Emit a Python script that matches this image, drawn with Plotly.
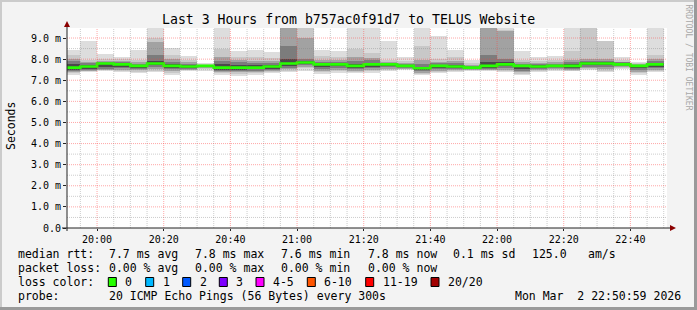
import plotly.graph_objects as go
import pandas as pd

# ---------------- data ----------------
start = pd.Timestamp("2026-03-02 19:50:00")
col_starts = [start + pd.Timedelta(minutes=5 * i) for i in range(36)]

median = [7.60, 7.65, 7.79, 7.75, 7.68, 7.79, 7.68, 7.65, 7.68, 7.60, 7.60, 7.60,
          7.65, 7.79, 7.84, 7.75, 7.75, 7.68, 7.75, 7.75, 7.68, 7.57, 7.68, 7.65,
          7.60, 7.68, 7.75, 7.68, 7.65, 7.68, 7.68, 7.79, 7.79, 7.75, 7.68, 7.75]

hi1 = [8.41, 8.84, 8.25, 8.11, 8.41, 9.46, 8.54, 8.13, 7.82, 9.60, 8.37, 8.41,
       8.32, 9.60, 9.60, 8.41, 8.37, 9.60, 9.60, 8.84, 8.10, 9.60, 9.10, 8.44,
       7.94, 9.60, 9.60, 8.37, 8.10, 8.16, 9.60, 9.60, 8.84, 8.10, 7.86, 9.60]
hi2 = [8.20, 7.95, 8.00, 8.00, 7.95, 9.00, 8.20, 7.95, 7.76, 8.50, 8.10, 8.10,
       8.05, 9.60, 9.60, 8.15, 8.10, 8.50, 8.30, 7.95, 7.90, 8.60, 8.00, 8.10,
       7.80, 9.60, 9.40, 7.95, 7.90, 7.95, 8.40, 9.60, 8.84, 7.95, 7.80, 8.20]
hi3 = [8.00, 7.85, 7.90, 7.90, 7.85, 8.80, 8.00, 7.85, 7.74, 8.10, 7.95, 7.90,
       7.90, 9.60, 9.00, 7.95, 7.95, 8.10, 8.05, 7.88, 7.82, 7.95, 7.88, 7.90,
       7.72, 9.60, 9.35, 7.85, 7.80, 7.85, 7.95, 8.00, 8.00, 7.88, 7.75, 8.00]
hi4 = [7.90, 7.80, 7.87, 7.85, 7.78, 8.20, 7.85, 7.75, 7.72, 7.90, 7.85, 7.80,
       7.80, 8.60, 8.00, 7.85, 7.85, 7.90, 7.95, 7.83, 7.78, 7.78, 7.80, 7.80,
       7.68, 8.20, 8.00, 7.78, 7.75, 7.78, 7.85, 7.90, 7.90, 7.85, 7.72, 7.90]
hi5 = [7.75, 7.72, 7.83, 7.80, 7.72, 7.90, 7.75, 7.70, 7.70, 7.75, 7.70, 7.70,
       7.72, 8.00, 7.90, 7.80, 7.80, 7.75, 7.82, 7.80, 7.72, 7.65, 7.72, 7.72,
       7.64, 7.85, 7.85, 7.70, 7.70, 7.72, 7.75, 7.85, 7.85, 7.80, 7.70, 7.80]
lo5 = [7.50, 7.55, 7.65, 7.65, 7.60, 7.70, 7.60, 7.60, 7.65, 7.50, 7.50, 7.52,
       7.55, 7.68, 7.75, 7.65, 7.68, 7.60, 7.65, 7.68, 7.62, 7.50, 7.60, 7.60,
       7.56, 7.60, 7.68, 7.55, 7.60, 7.62, 7.60, 7.72, 7.70, 7.70, 7.60, 7.65]
lo4 = [7.45, 7.50, 7.55, 7.60, 7.55, 7.62, 7.55, 7.55, 7.62, 7.42, 7.45, 7.45,
       7.50, 7.60, 7.70, 7.55, 7.60, 7.52, 7.58, 7.62, 7.58, 7.42, 7.52, 7.55,
       7.53, 7.55, 7.60, 7.45, 7.55, 7.58, 7.55, 7.65, 7.62, 7.68, 7.50, 7.58]
lo3 = [7.40, 7.45, 7.50, 7.50, 7.48, 7.55, 7.45, 7.50, 7.58, 7.38, 7.38, 7.40,
       7.45, 7.52, 7.65, 7.45, 7.50, 7.45, 7.50, 7.55, 7.55, 7.35, 7.45, 7.50,
       7.50, 7.50, 7.50, 7.38, 7.50, 7.52, 7.50, 7.60, 7.55, 7.65, 7.40, 7.50]
lo2 = [7.35, 7.42, 7.48, 7.45, 7.40, 7.45, 7.35, 7.48, 7.52, 7.32, 7.30, 7.33,
       7.38, 7.45, 7.60, 7.38, 7.42, 7.40, 7.42, 7.50, 7.52, 7.30, 7.38, 7.45,
       7.47, 7.48, 7.45, 7.30, 7.45, 7.48, 7.45, 7.55, 7.45, 7.60, 7.33, 7.45]
lo1 = [7.27, 7.38, 7.46, 7.38, 7.33, 7.38, 7.27, 7.46, 7.46, 7.27, 7.22, 7.27,
       7.33, 7.38, 7.46, 7.30, 7.35, 7.35, 7.35, 7.45, 7.48, 7.27, 7.33, 7.40,
       7.44, 7.46, 7.40, 7.27, 7.40, 7.44, 7.42, 7.50, 7.38, 7.55, 7.27, 7.40]

y_tick_vals = [0, 1, 2, 3, 4, 5, 6, 7, 8, 9]
y_tick_text = ["0.0"] + ["%d.0 m" % v for v in y_tick_vals[1:]]
x_tick_labels = ["20:00", "20:20", "20:40", "21:00", "21:20", "21:40", "22:00", "22:20", "22:40"]

loss_labels = ["0", "1", "2", "3", "4-5", "6-10", "11-19", "20/20"]
loss_colors = ["#26ff00", "#00b8ff", "#0059ff", "#7e00ff", "#ff00ff", "#ff5500", "#ff0000", "#a10000"]

title_text = "Last 3 Hours from b757ac0f91d7 to TELUS Website"

# ---------------- figure ----------------
W, H = 697, 310
L, R, T, B = 67, 30, 28, 82
PW, PH = W - L - R, H - T - B
MONO = "DejaVu Sans Mono"

x_start = pd.Timestamp("2026-03-02 19:50:59")
x_end = pd.Timestamp("2026-03-02 22:50:59")
YMAX = 9.475


def px(xp):
    return (xp - L) / PW


def py(yp):
    return (H - B - yp) / PH


centers = [t + pd.Timedelta(seconds=150) for t in col_starts]
bar_w = 300 * 1000

fig = go.Figure()
layers = [(lo1, hi1, "#dddddd"), (lo2, hi2, "#c8c8c8"), (lo3, hi3, "#a2a2a2"),
          (lo4, hi4, "#7c7c7c"), (lo5, hi5, "#4a4a4a")]
for lo, hi, col in layers:
    fig.add_trace(go.Bar(
        x=centers, y=[h - l for h, l in zip(hi, lo)], base=lo, width=bar_w,
        marker=dict(color=col, line=dict(width=0)), showlegend=False, hoverinfo="skip"))

med_x = col_starts + [col_starts[-1] + pd.Timedelta(minutes=5)]
med_y = median + [median[-1]]
fig.add_trace(go.Scatter(x=med_x, y=med_y, mode="lines", line=dict(color="#26ff00", width=2.6, shape="hv"),
                         showlegend=False, hoverinfo="skip"))

shapes = []
# vertical grid
t = pd.Timestamp("2026-03-02 19:55:00")
while t <= x_end:
    major = (t.minute % 20 == 0)
    shapes.append(dict(type="line", xref="x", yref="paper", x0=t, x1=t, y0=0, y1=1, layer="above",
                       line=dict(color="rgba(255,60,60,0.45)" if major else "rgba(130,130,130,0.4)",
                                 width=1, dash="1px,1px")))
    t += pd.Timedelta(minutes=5)
# horizontal grid
for i in range(1, 19):
    v = i * 0.5
    major = (i % 2 == 0)
    shapes.append(dict(type="line", xref="paper", yref="y", x0=0, x1=1, y0=v, y1=v, layer="above",
                       line=dict(color="rgba(255,60,60,0.45)" if major else "rgba(130,130,130,0.4)",
                                 width=1, dash="1px,1px")))
# axes lines
shapes.append(dict(type="line", xref="paper", yref="paper", x0=px(62), x1=px(671), y0=0, y1=0,
                   line=dict(color="#222222", width=1), layer="above"))
shapes.append(dict(type="line", xref="paper", yref="paper", x0=0, x1=0, y0=py(231), y1=py(24),
                   line=dict(color="#222222", width=1), layer="above"))
# arrows
shapes.append(dict(type="path", xref="paper", yref="paper",
                   path="M %f %f L %f %f L %f %f Z" % (px(670), py(225), px(676), py(228), px(670), py(231)),
                   fillcolor="#8b0000", line=dict(width=0), layer="above"))
shapes.append(dict(type="path", xref="paper", yref="paper",
                   path="M %f %f L %f %f L %f %f Z" % (px(64), py(27), px(67), py(21), px(70), py(27)),
                   fillcolor="#8b0000", line=dict(width=0), layer="above"))
# frame
shapes.append(dict(type="rect", xref="paper", yref="paper", x0=px(0), x1=px(2), y0=py(0), y1=py(310),
                   fillcolor="#cbcbcb", line=dict(width=0)))
shapes.append(dict(type="rect", xref="paper", yref="paper", x0=px(0), x1=px(697), y0=py(0), y1=py(2),
                   fillcolor="#cbcbcb", line=dict(width=0)))
shapes.append(dict(type="rect", xref="paper", yref="paper", x0=px(694), x1=px(697), y0=py(0), y1=py(310),
                   fillcolor="#9a9a9a", line=dict(width=0)))
shapes.append(dict(type="rect", xref="paper", yref="paper", x0=px(0), x1=px(697), y0=py(307), y1=py(310),
                   fillcolor="#9a9a9a", line=dict(width=0)))

annotations = []


def txt(x, y, s, size=11.5, color="#000000", xanchor="left", angle=0, family=MONO):
    annotations.append(dict(x=px(x), y=py(y), xref="paper", yref="paper", text=s.replace(" ", "\u00a0"),
                            showarrow=False, xanchor=xanchor, yanchor="middle", textangle=angle,
                            font=dict(family=family, size=size, color=color)))


txt(348, 19, title_text, size=13.2, xanchor="center")
txt(11, 126, "Seconds", size=11.5, xanchor="center", angle=-90)
txt(688.5, 57, "RRDTOOL / TOBI OETIKER", size=8, color="#a8a8a8", xanchor="center", angle=90)

rows = [254, 268, 282, 296]
txt(16, rows[0], "median rtt:")
txt(107.3, rows[0], "7.7 ms avg")
txt(193.3, rows[0], "7.8 ms max")
txt(279, rows[0], "7.6 ms min")
txt(365.7, rows[0], "7.8 ms now")
txt(451, rows[0], "0.1 ms sd")
txt(530.3, rows[0], "125.0")
txt(586, rows[0], "am/s")

txt(16, rows[1], "packet loss:")
txt(107.3, rows[1], "0.00 % avg")
txt(193.3, rows[1], "0.00 % max")
txt(279, rows[1], "0.00 % min")
txt(365.7, rows[1], "0.00 % now")

txt(16, rows[2], "loss color:")
box_x = [108.3, 145.7, 182.7, 219.3, 256, 307.3, 365.7, 431]
for bx, lab, colr in zip(box_x, loss_labels, loss_colors):
    shapes.append(dict(type="rect", xref="paper", yref="paper", x0=px(bx), x1=px(bx + 8),
                       y0=py(286.5), y1=py(277.5), fillcolor=colr, line=dict(color="#000000", width=1)))
    txt(bx + 15, rows[2], lab)

txt(16, rows[3], "probe:")
txt(107.3, rows[3], "20 ICMP Echo Pings (56 Bytes) every 300s")
txt(512.7, rows[3], "Mon Mar  2 22:50:59 2026")

x_tick_vals = [pd.Timestamp("2026-03-02 " + s) for s in x_tick_labels]

fig.update_layout(
    width=W, height=H, margin=dict(l=L, r=R, t=T, b=B, pad=0),
    paper_bgcolor="#f3f3f3", plot_bgcolor="#ffffff",
    barmode="overlay", bargap=0, showlegend=False,
    shapes=shapes, annotations=annotations,
    xaxis=dict(type="date", range=[x_start, x_end], tickvals=x_tick_vals, ticktext=x_tick_labels,
               showgrid=False, zeroline=False, showline=False, ticks="outside", ticklen=2,
               tickcolor="#222222", tickfont=dict(family=MONO, size=10, color="#000000"), fixedrange=True),
    yaxis=dict(range=[0, YMAX], tickvals=y_tick_vals, ticktext=y_tick_text,
               showgrid=False, zeroline=False, showline=False, ticks="outside", ticklen=3,
               tickcolor="#222222", tickfont=dict(family=MONO, size=10, color="#000000"), fixedrange=True),
)

fig.write_html("out.html")
